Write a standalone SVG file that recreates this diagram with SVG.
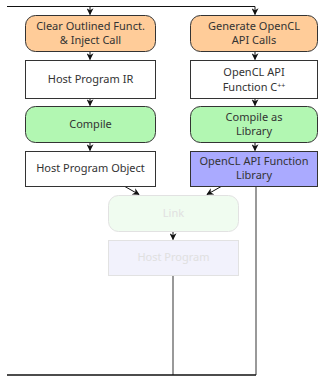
<svg xmlns="http://www.w3.org/2000/svg" width="320" height="376" viewBox="0 0 320 376">
<style>
.n{stroke:#333;stroke-width:1}
.o{fill:#ffcc99}
.w{fill:#ffffff}
.g{fill:#b2f7b2}
.b{fill:#aaaaff}
.fg{fill:#f0fcf0;stroke:#e2e2e2;stroke-width:1}
.fb{fill:#f2f2fc;stroke:#e2e2e2;stroke-width:1}
text{font-family:"Noto Sans","Open Sans",sans-serif;font-size:11px;fill:#333;text-anchor:middle}
.ft{fill:#e0e0e0}
.e{stroke:#111;stroke-width:1;fill:none}
.eg{stroke:#777;stroke-width:1.5;fill:none}
</style>
<defs>
<marker id="ah" viewBox="0 0 10 10" refX="9" refY="5" markerWidth="7" markerHeight="7" orient="auto">
<path d="M0,0 L10,5 L0,10 L3,5 z" fill="#111"/>
</marker>
</defs>
<g id="connectors">
<path class="e" d="M7,6.5 H255 V14.5" marker-end="url(#ah)"/>
<path class="e" d="M90,6.5 V14.5" marker-end="url(#ah)"/>
<path class="e" d="M90,51 V59.5" marker-end="url(#ah)"/>
<path class="e" d="M90,99 V105.5" marker-end="url(#ah)"/>
<path class="e" d="M90,142 V150.5" marker-end="url(#ah)"/>
<path class="e" d="M255,51 V59.5" marker-end="url(#ah)"/>
<path class="e" d="M255,99 V105.5" marker-end="url(#ah)"/>
<path class="e" d="M255,142 V150.5" marker-end="url(#ah)"/>
<path class="e" d="M124,186 L139,194.5" marker-end="url(#ah)"/>
<path class="e" d="M222,186 L207,194.5" marker-end="url(#ah)"/>
<path class="e" d="M173,232 V239.5" marker-end="url(#ah)"/>
<path class="eg" d="M173,276 V375"/>
<path class="eg" d="M256,186 V375"/>
<path class="e" d="M7,375 H256" style="stroke-width:1.5"/>
</g>
<g id="clear">
<rect class="n o" x="25.5" y="15.5" width="130" height="36" rx="10"/>
<text x="90.5" y="30">Clear Outlined Funct.</text>
<text x="90.5" y="44">&amp; Inject Call</text>
</g>
<g id="generate">
<rect class="n o" x="190.5" y="15.5" width="127" height="36" rx="10"/>
<text x="254" y="30">Generate OpenCL</text>
<text x="254" y="44">API Calls</text>
</g>
<g id="hostir">
<rect class="n w" x="25.5" y="60.5" width="130" height="38"/>
<text x="90.5" y="83">Host Program IR</text>
</g>
<g id="apic">
<rect class="n w" x="190.5" y="60.5" width="127" height="38"/>
<text x="254" y="76">OpenCL API</text>
<text x="254" y="91">Function C<tspan font-size="7" dy="-3">++</tspan></text>
</g>
<g id="compile">
<rect class="n g" x="25.5" y="106.5" width="130" height="36" rx="10"/>
<text x="90.5" y="128">Compile</text>
</g>
<g id="compilelib">
<rect class="n g" x="190.5" y="106.5" width="127" height="36" rx="10"/>
<text x="254" y="121">Compile as</text>
<text x="254" y="135">Library</text>
</g>
<g id="hostobj">
<rect class="n w" x="25.5" y="151.5" width="130" height="35"/>
<text x="90.5" y="172">Host Program Object</text>
</g>
<g id="apilib">
<rect class="n b" x="190.5" y="151.5" width="127" height="35"/>
<text x="254" y="165">OpenCL API Function</text>
<text x="254" y="179">Library</text>
</g>
<g id="link">
<rect class="fg" x="108.5" y="195.5" width="130" height="36" rx="10"/>
<text class="ft" x="173.5" y="217">Link</text>
</g>
<g id="hostprog">
<rect class="fb" x="108.5" y="240.5" width="130" height="35"/>
<text class="ft" x="173.5" y="261">Host Program</text>
</g>
</svg>
